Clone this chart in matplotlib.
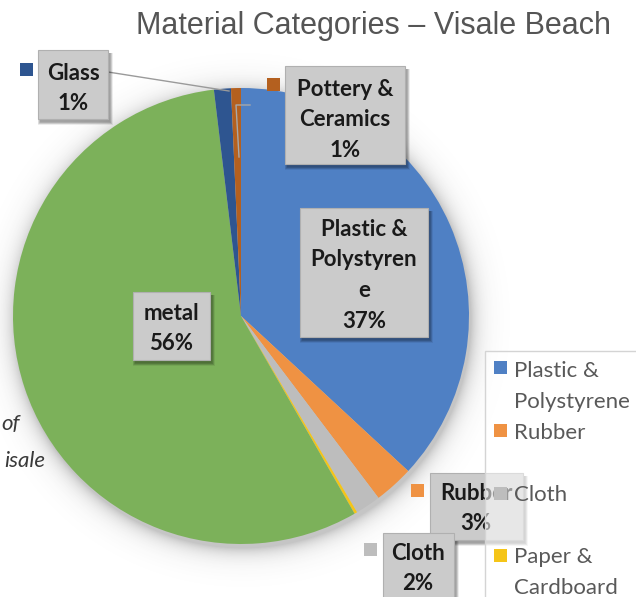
import numpy as np
import matplotlib
matplotlib.use("Agg")
import matplotlib.pyplot as plt
from matplotlib.patches import Rectangle

# ---- data -------------------------------------------------------------
categories = ["Plastic & Polystyrene", "Rubber", "Cloth", "Paper & Cardboard",
              "metal", "Glass", "Pottery & Ceramics"]
shares = [36.9, 2.8, 1.8, 0.2, 56.4, 1.2, 0.7]          # percent of items
colors = ["#4f80c4", "#ef9243", "#bdbdbd", "#f5c518",
          "#7cb15a", "#2e5590", "#b4601f"]
legend_names = ["Plastic &\nPolystyrene", "Rubber", "Cloth", "Paper &\nCardboard"]

# ---- canvas in pixel units (y measured from the top) ------------------
W, H = 636, 597
def Y(y):
    return H - y

fig = plt.figure(figsize=(W / 100, H / 100), dpi=100)
ax = fig.add_axes([0, 0, 1, 1])

CX, CY, R = 241, 316, 228

# soft drop shadow under the pie
yy, xx = np.mgrid[0:H, 0:W] + 0.5
d = np.hypot(xx - (CX + 2), yy - (CY + 4)) - R
alpha = np.where(d < 0, 0.30, 0.30 * np.exp(-np.clip(d, 0, None) / 9.0))
shadow = np.zeros((H, W, 4))
shadow[..., :3] = 0.25
shadow[..., 3] = alpha
ax.imshow(shadow, extent=(0, W, 0, H), origin="upper", zorder=0.5,
          interpolation="bilinear")

# italic body text partly hidden behind the chart
body_kw = dict(fontsize=16, family="Lato", style="italic", color="#3a3a3a",
               va="baseline", zorder=0.4)
ax.text(1, Y(430), "of", ha="left", **body_kw)
ax.text(45, Y(467), "isale", ha="right", **body_kw)

wedges, _ = ax.pie(shares, colors=colors, startangle=90, counterclock=False,
                   center=(CX, Y(CY)), radius=R,
                   wedgeprops=dict(linewidth=0))
for w in wedges:
    w.set_zorder(1)

ax.set_xlim(0, W)
ax.set_ylim(0, H)
ax.set_aspect("equal")
ax.axis("off")

# title
ax.text(374, Y(34), "Material Categories \u2013 Visale Beach", ha="center",
        va="baseline", fontsize=22, family="Liberation Sans", color="#555555")

# leader lines
ax.plot([108, 229], [Y(72), Y(91)], color="#9a9a9a", lw=1.0, zorder=2)
ax.plot([250, 236, 239], [Y(105), Y(105), Y(157)], color="#a8a8a8", lw=1.0,
        zorder=2)


def label_box(x0, y0, x1, y1, z=3):
    # blurred shadow to the lower right
    for k in range(6):
        ax.add_patch(Rectangle((x0 + 2 - k * 0.5, Y(y1 + 3 + k * 0.6)),
                               (x1 - x0) + k, (y1 - y0) + k * 0.6,
                               facecolor="black", edgecolor="none",
                               alpha=0.07, zorder=z))
    ax.add_patch(Rectangle((x0, Y(y1)), x1 - x0, y1 - y0,
                           facecolor="#cbcbcb", edgecolor="#b0b0b0",
                           lw=0.8, zorder=z + 0.1))


def label_text(xc, y_first, lines, step=30.5, z=3.5):
    for i, s in enumerate(lines):
        ax.text(xc, Y(y_first + i * step), s, ha="center", va="baseline",
                fontsize=16, family="Lato", fontweight="bold",
                color="#1a1a1a", zorder=z)


def key(x0, y0, color, size=12.5, z=3.5):
    ax.add_patch(Rectangle((x0, Y(y0 + size)), size, size, facecolor=color,
                           edgecolor="none", zorder=z))


def pct(v):
    return f"{round(v):d}%"


# data labels: box, first baseline, wrapped name lines, key position
label_layout = {
    "Glass": dict(box=(38, 50, 108, 119), xc=73, y=80, lines=["Glass"],
                  key=(20, 63)),
    "Pottery & Ceramics": dict(box=(285, 66, 405, 164), xc=345, y=96,
                               lines=["Pottery &", "Ceramics"], key=(267, 78)),
    "Plastic & Polystyrene": dict(box=(300, 208, 428, 337), xc=364, y=236,
                                  lines=["Plastic &", "Polystyren", "e"]),
    "metal": dict(box=(133, 292, 210, 360), xc=171, y=320, lines=["metal"]),
    "Rubber": dict(box=(430, 473, 523, 540), xc=476, y=500, lines=["Rubber"],
                   key=(411, 484)),
    "Cloth": dict(box=(383, 533, 454, 605), xc=418, y=560, lines=["Cloth"],
                  key=(364, 543)),
}

for name, value, color in zip(categories, shares, colors):
    if name not in label_layout:
        continue
    L = label_layout[name]
    label_box(*L["box"])
    label_text(L["xc"], L["y"], L["lines"] + [pct(value)])
    if "key" in L:
        key(*L["key"], color)

# legend panel (semi-transparent, overlapping the Rubber label)
ax.add_patch(Rectangle((485, Y(640)), 200, 640 - 351, facecolor="white",
                       edgecolor="none", alpha=0.55, zorder=4))
ax.add_patch(Rectangle((485, Y(640)), 200, 640 - 351, facecolor="none",
                       edgecolor="#d4d4d4", lw=1.0, zorder=4.1))

legend_rows = [(361, 377), (424, 439), (487, 501), (549, 563)]
for (ky, base), name, color in zip(legend_rows, legend_names, colors):
    key(494, ky, color, size=12.5, z=4.5)
    for i, s in enumerate(name.split("\n")):
        ax.text(514, Y(base + i * 31), s, ha="left", va="baseline",
                fontsize=16, family="Lato", color="#595959", zorder=4.5)

fig.savefig("out.png", dpi=100)
